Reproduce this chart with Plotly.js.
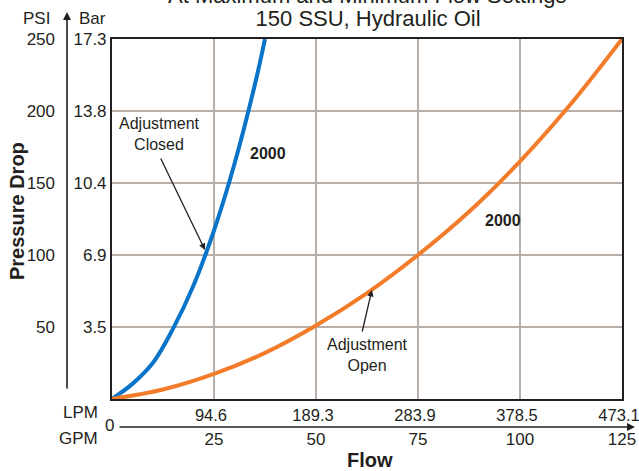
<!DOCTYPE html>
<html>
<head>
<meta charset="utf-8">
<script src="https://cdn.plot.ly/plotly-3.0.1.min.js"></script>
<style>html,body{margin:0;padding:0;background:#fff;}#chart{width:639px;height:471px;}</style>
</head>
<body>
<div id="chart"></div>
<script>
// Data (flow in GPM, pressure drop in PSI)
var closedFlowGPM = [0, 5, 10, 15, 20, 25, 30, 35, 37.5];
var closedPSI     = [0, 10.5, 25, 49, 79, 117, 163, 218, 250];
var openFlowGPM   = [0, 12.5, 25, 37.5, 50, 62.5, 75, 87.5, 100, 112.5, 125];
var openPSI       = [0, 6.6, 17.4, 32, 51, 73.5, 100, 130, 165, 205, 250];

var gpmTicks  = [25, 50, 75, 100, 125];
var gpmLabels = ['25', '50', '75', '100', '125'];
var lpmLabels = ['94.6', '189.3', '283.9', '378.5', '473.1'];
var psiTicks  = [50, 100, 150, 200, 250];
var psiLabels = ['50', '100', '150', '200', '250'];
var barLabels = ['3.5', '6.9', '10.4', '13.8', '17.3'];

var FONT = 'Liberation Sans, Arial, Helvetica, sans-serif';
var INK = '#231f20';
var GRID = '#b7afa8';
var XDOM = [0.1005, 1];
var YDOM = [0.0722, 1];

var traces = [
  {x: closedFlowGPM, y: closedPSI, type: 'scatter', mode: 'lines',
   line: {color: '#0a74c9', width: 4, shape: 'spline', smoothing: 1.0},
   xaxis: 'x', yaxis: 'y', hoverinfo: 'skip'},
  {x: openFlowGPM, y: openPSI, type: 'scatter', mode: 'lines',
   line: {color: '#f27c2a', width: 4, shape: 'spline', smoothing: 1.0},
   xaxis: 'x', yaxis: 'y', hoverinfo: 'skip'},
  // helper trace so the GPM / PSI axes are drawn (same data, invisible)
  {x: openFlowGPM, y: openPSI, type: 'scatter', mode: 'lines', opacity: 0,
   line: {width: 0}, xaxis: 'x2', yaxis: 'y2', hoverinfo: 'skip'}
];

var layout = {
  width: 639, height: 471,
  margin: {l: 55, r: 17, t: 39, b: 44},
  paper_bgcolor: '#fff', plot_bgcolor: '#fff',
  showlegend: false,
  font: {family: FONT, color: INK, size: 17},
  title: {text: '150 SSU, Hydraulic Oil', font: {family: FONT, size: 22, color: INK},
          xref: 'container', yref: 'container', x: 0.576, xanchor: 'center', y: 0.962, yanchor: 'middle'},
  xaxis: {domain: XDOM, range: [0, 125], anchor: 'y',
          tickmode: 'array', tickvals: gpmTicks, ticktext: lpmLabels, ticks: '',
          ticklabeloverflow: 'allow', ticklabelshift: -3,
          tickfont: {size: 16.5, family: FONT, color: INK},
          showgrid: true, gridcolor: GRID, gridwidth: 1.5, zeroline: false,
          showline: true, mirror: true, linecolor: INK, linewidth: 2, fixedrange: true},
  xaxis2: {domain: XDOM, range: [0, 125], overlaying: 'x', anchor: 'free', position: 0, side: 'bottom',
           tickmode: 'array', tickvals: gpmTicks, ticktext: gpmLabels, ticks: '',
           ticklabeloverflow: 'allow',
           tickfont: {size: 17, family: FONT, color: INK},
           showgrid: false, zeroline: false, showline: false, fixedrange: true},
  yaxis: {domain: YDOM, range: [0, 250], anchor: 'x',
          tickmode: 'array', tickvals: psiTicks, ticktext: barLabels, ticks: '',
          ticklabeloverflow: 'allow',
          tickfont: {size: 17, family: FONT, color: INK},
          showgrid: true, gridcolor: GRID, gridwidth: 1.5, zeroline: false,
          showline: true, mirror: true, linecolor: INK, linewidth: 2, fixedrange: true},
  yaxis2: {domain: YDOM, range: [0, 250], overlaying: 'y', anchor: 'free', position: 0, side: 'left',
           tickmode: 'array', tickvals: psiTicks, ticktext: psiLabels, ticks: '',
           ticklabeloverflow: 'allow',
           tickfont: {size: 17, family: FONT, color: INK},
           showgrid: false, zeroline: false, showline: false, fixedrange: true},
  annotations: [
    {text: 'At Maximum and Minimum Flow Settings', xref: 'paper', yref: 'paper', x: 0.552, y: 1.111,
     xanchor: 'center', yanchor: 'middle', showarrow: false, font: {size: 22}},
    {text: 'PSI', xref: 'paper', yref: 'paper', x: -0.005, y: 1.054, xanchor: 'right', yanchor: 'middle', showarrow: false},
    {text: 'Bar', xref: 'paper', yref: 'paper', x: 0.0935, y: 1.054, xanchor: 'right', yanchor: 'middle', showarrow: false},
    {text: '<b>Pressure Drop</b>', xref: 'paper', yref: 'paper', x: -0.067, y: 0.5567, textangle: -90,
     xanchor: 'center', yanchor: 'middle', showarrow: false, font: {size: 20}},
    {text: 'LPM', xref: 'paper', yref: 'paper', x: 0.0794, y: 0.0361, xanchor: 'right', yanchor: 'middle', showarrow: false},
    {text: 'GPM', xref: 'paper', yref: 'paper', x: 0.0794, y: -0.0284, xanchor: 'right', yanchor: 'middle', showarrow: false},
    {text: '0', xref: 'paper', yref: 'paper', x: 0.097, y: 0.003, xanchor: 'center', yanchor: 'middle', showarrow: false},
    {text: '<b>Flow</b>', xref: 'paper', yref: 'paper', x: 0.5556, y: -0.0845, xanchor: 'center', yanchor: 'middle',
     showarrow: false, font: {size: 20}},
    // axis arrows
    {text: '', xref: 'paper', yref: 'paper', x: 1.0229, y: 0, ax: -517, ay: 0, axref: 'pixel', ayref: 'pixel',
     showarrow: true, arrowhead: 2, arrowsize: 1, arrowwidth: 1.6, arrowcolor: INK},
    {text: '', xref: 'paper', yref: 'paper', x: 0.0212, y: 1.0696, ax: 0, ay: 378, axref: 'pixel', ayref: 'pixel',
     showarrow: true, arrowhead: 2, arrowsize: 1, arrowwidth: 1.6, arrowcolor: INK},
    // curve labels
    {text: 'Adjustment<br>Closed', xref: 'x', yref: 'y', x: 11.76, y: 184, xanchor: 'center', yanchor: 'middle',
     showarrow: false, font: {size: 16}},
    {text: '', xref: 'x', yref: 'y', x: 22.8, y: 103.5, ax: -45, ay: -93, showarrow: true,
     arrowhead: 2, arrowsize: 1, arrowwidth: 1.3, arrowcolor: INK},
    {text: '<b>2000</b>', xref: 'x', yref: 'y', x: 38.2, y: 170.8, xanchor: 'center', yanchor: 'middle',
     showarrow: false, font: {size: 16}},
    {text: 'Adjustment<br>Open', xref: 'x', yref: 'y', x: 62.7, y: 30.5, xanchor: 'center', yanchor: 'middle',
     showarrow: false, font: {size: 16}},
    {text: '', xref: 'x', yref: 'y', x: 63.7, y: 75.7, ax: -10, ay: 43, showarrow: true,
     arrowhead: 2, arrowsize: 1, arrowwidth: 1.3, arrowcolor: INK},
    {text: '<b>2000</b>', xref: 'x', yref: 'y', x: 95.8, y: 124.3, xanchor: 'center', yanchor: 'middle',
     showarrow: false, font: {size: 16}}
  ]
};

Plotly.newPlot('chart', traces, layout, {displayModeBar: false, staticPlot: true});
</script>
</body>
</html>
